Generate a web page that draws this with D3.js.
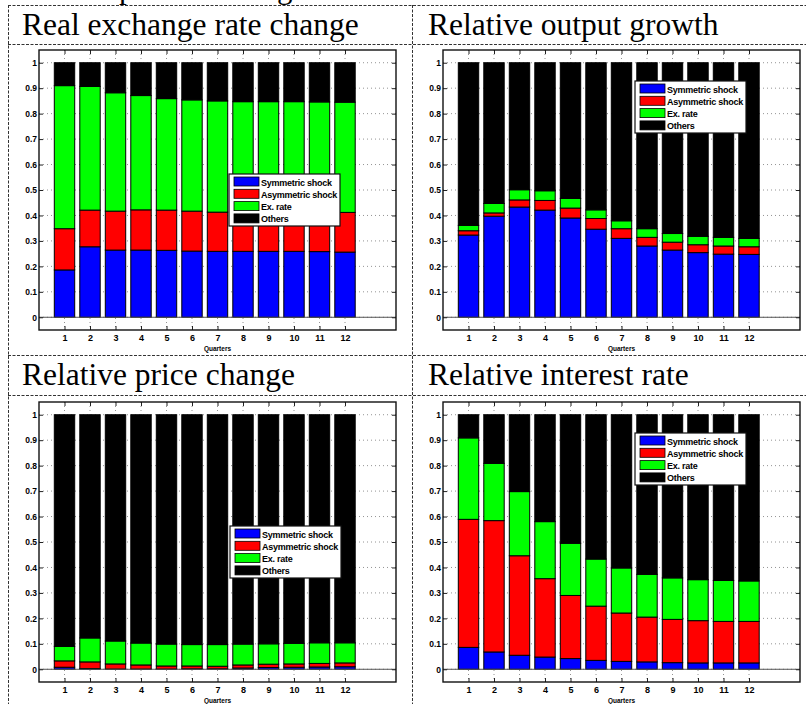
<!DOCTYPE html>
<html>
<head>
<meta charset="utf-8">
<script src="https://cdn.jsdelivr.net/npm/d3@7"></script>
<style>
  body { margin: 0; background: #fff; }
  svg { display: block; }
</style>
</head>
<body>
<svg id="canvas" width="806" height="704"></svg>
<script>
// quarters and legend
const quarters = [1, 2, 3, 4, 5, 6, 7, 8, 9, 10, 11, 12];
const seriesNames = ['Symmetric shock', 'Asymmetric shock', 'Ex. rate', 'Others'];
const seriesColors = ['#0000ff', '#ff0000', '#00ff00', '#000000'];
const yTicks = [0, 0.1, 0.2, 0.3, 0.4, 0.5, 0.6, 0.7, 0.8, 0.9, 1];

// Real exchange rate change
const rerSym   = [0.186, 0.277, 0.264, 0.264, 0.263, 0.260, 0.259, 0.259, 0.259, 0.259, 0.258, 0.256];
const rerAsym  = [0.162, 0.144, 0.153, 0.158, 0.158, 0.157, 0.154, 0.155, 0.155, 0.155, 0.156, 0.156];
const rerEx    = [0.562, 0.486, 0.465, 0.449, 0.438, 0.437, 0.437, 0.433, 0.433, 0.433, 0.432, 0.433];
const rerOther = [0.090, 0.093, 0.118, 0.129, 0.141, 0.146, 0.150, 0.153, 0.153, 0.153, 0.154, 0.155];

// Relative output growth
const outSym   = [0.323, 0.397, 0.433, 0.421, 0.390, 0.346, 0.310, 0.280, 0.264, 0.254, 0.248, 0.247];
const outAsym  = [0.017, 0.013, 0.028, 0.038, 0.039, 0.042, 0.038, 0.034, 0.031, 0.031, 0.032, 0.030];
const outEx    = [0.021, 0.037, 0.040, 0.038, 0.038, 0.034, 0.031, 0.034, 0.034, 0.033, 0.034, 0.033];
const outOther = [0.639, 0.553, 0.499, 0.503, 0.533, 0.578, 0.621, 0.652, 0.671, 0.682, 0.686, 0.690];

// Relative price change
const priSym   = [0.008, 0.003, 0.001, 0.001, 0.001, 0.002, 0.002, 0.005, 0.007, 0.008, 0.009, 0.010];
const priAsym  = [0.025, 0.026, 0.020, 0.016, 0.012, 0.011, 0.010, 0.012, 0.013, 0.013, 0.014, 0.015];
const priEx    = [0.057, 0.094, 0.090, 0.086, 0.086, 0.084, 0.085, 0.082, 0.080, 0.081, 0.081, 0.079];
const priOther = [0.910, 0.877, 0.889, 0.897, 0.901, 0.903, 0.903, 0.901, 0.900, 0.898, 0.896, 0.896];

// Relative interest rate
const intSym   = [0.086, 0.068, 0.055, 0.048, 0.042, 0.035, 0.031, 0.029, 0.026, 0.025, 0.025, 0.025];
const intAsym  = [0.503, 0.516, 0.391, 0.308, 0.248, 0.213, 0.190, 0.176, 0.170, 0.166, 0.163, 0.163];
const intEx    = [0.320, 0.225, 0.252, 0.224, 0.205, 0.185, 0.177, 0.168, 0.163, 0.161, 0.161, 0.159];
const intOther = [0.091, 0.191, 0.302, 0.420, 0.505, 0.567, 0.602, 0.627, 0.641, 0.648, 0.651, 0.653];

const panels = [
	{ title: 'Real exchange rate change', tx: 22, ty: 35, x0: 39, x1: 396, y0: 50, y1: 330,
	  lx: 229, ly: 174, series: [rerSym, rerAsym, rerEx, rerOther] },
	{ title: 'Relative output growth', tx: 428, ty: 35, x0: 443, x1: 800, y0: 50, y1: 330,
	  lx: 635, ly: 81, series: [outSym, outAsym, outEx, outOther] },
	{ title: 'Relative price change', tx: 22, ty: 385, x0: 39, x1: 396, y0: 402, y1: 682,
	  lx: 230, ly: 526, series: [priSym, priAsym, priEx, priOther] },
	{ title: 'Relative interest rate', tx: 428, ty: 385, x0: 443, x1: 800, y0: 402, y1: 682,
	  lx: 635, ly: 433, series: [intSym, intAsym, intEx, intOther] }
];

const svg = d3.select('#canvas');
svg.append('rect').attr('width', 806).attr('height', 704).attr('fill', '#fff');

// table lines (dashed)
const dash = svg.append('g')
	.attr('stroke', '#333')
	.attr('stroke-width', 1)
	.attr('stroke-dasharray', '3,1.5')
	.attr('fill', 'none');
[5.5, 44.5, 355.5, 395.5].forEach((y) => {
	dash.append('line').attr('x1', 8).attr('x2', 806).attr('y1', y).attr('y2', y);
});
[8.5, 412.5].forEach((x) => {
	dash.append('line').attr('x1', x).attr('x2', x).attr('y1', 5).attr('y2', 704);
});

// descenders of the line above, cut off by the page edge (as in the source)
svg.append('text').attr('x', 119).attr('y', -2)
	.style('font-family', 'Liberation Serif').style('font-size', '31px').text('p');
svg.append('text').attr('x', 277).attr('y', -2)
	.style('font-family', 'Liberation Serif').style('font-size', '31px').text('g');

panels.forEach((p) => {
	const g = svg.append('g');

	g.append('text')
		.attr('x', p.tx).attr('y', p.ty)
		.style('font-family', 'Liberation Serif')
		.style('font-size', '31.5px')
		.text(p.title);

	const x = d3.scaleLinear().domain([0, 14]).range([p.x0, p.x1]);
	const y = d3.scaleLinear().domain([-0.05, 1.05]).range([p.y1, p.y0]);
	const bw = (x(1) - x(0)) * 0.8;

	g.append('rect')
		.attr('x', p.x0).attr('y', p.y0)
		.attr('width', p.x1 - p.x0).attr('height', p.y1 - p.y0)
		.attr('fill', '#fff');

	// dotted grid
	const grid = g.append('g')
		.attr('stroke', '#777')
		.attr('stroke-width', 0.8)
		.attr('stroke-dasharray', '1,3');
	grid.selectAll('.gy').data(yTicks).enter().append('line')
		.attr('x1', p.x0).attr('x2', p.x1)
		.attr('y1', (d) => y(d)).attr('y2', (d) => y(d));
	grid.selectAll('.gx').data(quarters).enter().append('line')
		.attr('x1', (d) => x(d)).attr('x2', (d) => x(d))
		.attr('y1', p.y0).attr('y2', p.y1);

	// stacked bars
	const rows = quarters.map((q, i) => {
		const r = { q: q };
		seriesNames.forEach((s, k) => { r[s] = p.series[k][i]; });
		return r;
	});
	const stacked = d3.stack().keys(seriesNames)(rows);

	g.selectAll('.layer')
		.data(stacked)
		.enter()
		.append('g')
		.attr('fill', (d, k) => seriesColors[k])
		.selectAll('rect')
		.data((d) => d)
		.enter()
		.append('rect')
		.attr('x', (d) => x(d.data.q) - bw / 2)
		.attr('y', (d) => y(d[1]))
		.attr('width', bw)
		.attr('height', (d) => y(d[0]) - y(d[1]))
		.attr('stroke', '#000')
		.attr('stroke-width', 1);

	// baseline at zero
	g.append('line')
		.attr('x1', p.x0).attr('x2', p.x1)
		.attr('y1', y(0)).attr('y2', y(0))
		.attr('stroke', '#555').attr('stroke-width', 1);

	// axes with inward ticks
	const yl = g.append('g').attr('transform', `translate(${p.x0},0)`)
		.call(d3.axisLeft(y).tickValues(yTicks).tickSize(-4).tickPadding(2).tickFormat(d3.format('.1~f')));
	const yr = g.append('g').attr('transform', `translate(${p.x1},0)`)
		.call(d3.axisRight(y).tickValues(yTicks).tickSize(-4).tickFormat(''));
	const xb = g.append('g').attr('transform', `translate(0,${p.y1})`)
		.call(d3.axisBottom(x).tickValues(quarters).tickSize(-4).tickPadding(5).tickFormat(d3.format('d')));
	const xt = g.append('g').attr('transform', `translate(0,${p.y0})`)
		.call(d3.axisTop(x).tickValues(quarters).tickSize(-4).tickFormat(''));
	[yl, yr, xb, xt].forEach((a) => {
		a.select('.domain').remove();
		a.selectAll('line').attr('stroke', '#222');
		a.selectAll('text')
			.style('font-family', 'Liberation Sans')
			.style('font-weight', 'bold')
			.style('font-size', '8.5px')
			.attr('fill', '#000');
	});
	xb.selectAll('text').style('font-size', '9px');

	g.append('rect')
		.attr('x', p.x0).attr('y', p.y0)
		.attr('width', p.x1 - p.x0).attr('height', p.y1 - p.y0)
		.attr('fill', 'none')
		.attr('stroke', '#111').attr('stroke-width', 1.4);

	g.append('text')
		.attr('x', (p.x0 + p.x1) / 2).attr('y', p.y1 + 21)
		.attr('text-anchor', 'middle')
		.style('font-family', 'Liberation Sans')
		.style('font-weight', 'bold')
		.style('font-size', '6.5px')
		.text('Quarters');

	// legend
	const lg = g.append('g').attr('transform', `translate(${p.lx},${p.ly})`);
	lg.append('rect')
		.attr('width', 111).attr('height', 52)
		.attr('fill', '#fff').attr('stroke', '#111').attr('stroke-width', 1.2);
	const items = lg.selectAll('.item')
		.data(seriesNames)
		.enter()
		.append('g')
		.attr('transform', (d, k) => `translate(0,${3 + k * 12.3})`);
	items.append('rect')
		.attr('x', 5).attr('y', 0)
		.attr('width', 25).attr('height', 9)
		.attr('fill', (d, k) => seriesColors[k])
		.attr('stroke', '#000').attr('stroke-width', 0.8);
	items.append('text')
		.attr('x', 32).attr('y', 8.5)
		.style('font-family', 'Liberation Sans')
		.style('font-weight', 'bold')
		.style('font-size', '9px')
		.style('letter-spacing', '-0.25px')
		.text((d) => d);
});
</script>
</body>
</html>
